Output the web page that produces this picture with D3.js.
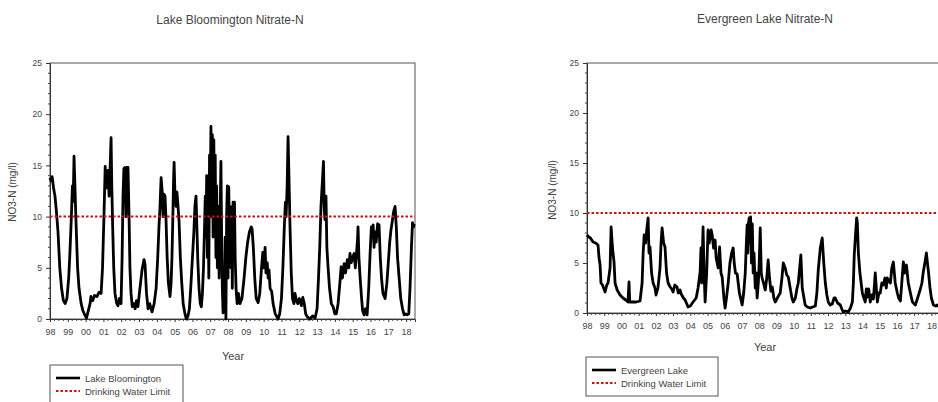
<!DOCTYPE html>
<html>
<head>
<meta charset="utf-8">
<script src="https://cdn.jsdelivr.net/npm/d3@7"></script>
<style>
  html, body { margin: 0; padding: 0; background: #fff; }
  svg { display: block; font-family: "Liberation Sans", Arial, sans-serif; }
</style>
</head>
<body>
<script>
// decimal year, NO3-N (mg/l)
const bloomington = [
  [1998.00,13.8],[1998.06,13.5],[1998.12,13.9],[1998.20,12.8],[1998.28,12.0],[1998.36,10.5],[1998.45,8.5],
  [1998.55,5.0],[1998.65,3.0],[1998.75,1.8],[1998.85,1.5],[1998.95,2.0],[1999.05,4.0],[1999.12,6.5],
  [1999.20,10.0],[1999.26,13.0],[1999.30,11.5],[1999.35,15.9],[1999.40,13.0],[1999.46,9.5],[1999.55,5.0],
  [1999.63,3.0],[1999.75,1.5],[1999.85,0.8],[1999.95,0.4],[2000.05,0.1],[2000.15,0.8],[2000.25,1.5],
  [2000.30,2.2],[2000.40,1.8],[2000.50,2.3],[2000.64,2.2],[2000.75,2.6],[2000.87,2.5],[2000.95,5.0],
  [2001.03,10.0],[2001.10,14.9],[2001.15,13.5],[2001.20,12.8],[2001.26,14.5],[2001.32,12.0],[2001.38,15.0],
  [2001.43,17.7],[2001.47,13.0],[2001.52,9.0],[2001.58,5.0],[2001.65,2.5],[2001.75,1.5],[2001.82,1.3],
  [2001.90,2.0],[2001.99,1.5],[2002.05,6.0],[2002.10,12.0],[2002.15,14.7],[2002.21,14.8],[2002.27,10.0],
  [2002.32,14.8],[2002.38,14.8],[2002.44,10.0],[2002.49,5.0],[2002.55,2.5],[2002.62,1.2],[2002.70,1.5],
  [2002.78,1.0],[2002.86,1.8],[2002.94,1.2],[2003.05,3.0],[2003.17,4.8],[2003.28,5.8],[2003.34,5.3],
  [2003.42,2.5],[2003.51,1.0],[2003.60,1.5],[2003.73,0.7],[2003.85,1.5],[2003.96,3.0],[2004.05,6.0],
  [2004.12,9.0],[2004.18,11.0],[2004.24,13.8],[2004.30,12.5],[2004.35,10.0],[2004.40,12.2],[2004.46,12.0],
  [2004.52,9.5],[2004.58,6.0],[2004.65,3.5],[2004.74,2.2],[2004.80,3.5],[2004.85,6.0],[2004.90,10.0],
  [2004.94,13.5],[2004.97,15.3],[2005.02,12.0],[2005.08,11.0],[2005.13,12.4],[2005.19,11.0],[2005.25,9.5],
  [2005.32,6.0],[2005.40,3.5],[2005.48,1.5],[2005.58,0.5],[2005.66,0.0],[2005.75,0.3],[2005.83,1.0],
  [2005.92,3.5],[2006.00,6.0],[2006.08,8.5],[2006.14,11.0],[2006.20,12.0],[2006.25,9.0],[2006.30,5.8],
  [2006.37,3.0],[2006.44,1.5],[2006.50,1.2],[2006.56,2.5],[2006.62,5.0],[2006.68,9.0],[2006.72,12.0],
  [2006.76,8.0],[2006.80,14.0],[2006.84,6.0],[2006.88,11.0],[2006.92,4.0],[2006.96,16.0],[2007.00,12.0],
  [2007.04,18.8],[2007.08,10.0],[2007.12,18.0],[2007.16,8.0],[2007.20,17.5],[2007.24,9.0],[2007.28,16.0],
  [2007.32,6.0],[2007.36,13.0],[2007.40,5.0],[2007.45,11.0],[2007.50,4.0],[2007.55,9.5],[2007.60,15.4],
  [2007.64,8.0],[2007.68,3.0],[2007.72,0.6],[2007.76,5.0],[2007.80,1.5],[2007.84,8.0],[2007.88,0.0],
  [2007.92,10.0],[2007.96,13.0],[2008.00,4.0],[2008.04,12.9],[2008.08,7.0],[2008.12,11.0],[2008.16,5.0],
  [2008.20,10.0],[2008.24,3.0],[2008.28,11.4],[2008.32,8.0],[2008.36,11.4],[2008.40,6.0],[2008.45,3.0],
  [2008.51,1.5],[2008.58,2.5],[2008.67,1.5],[2008.78,2.0],[2008.90,4.0],[2009.00,6.0],[2009.10,7.5],
  [2009.20,8.5],[2009.30,9.0],[2009.35,8.8],[2009.42,7.0],[2009.50,4.0],[2009.58,2.0],[2009.69,1.6],
  [2009.78,2.5],[2009.88,5.0],[2009.95,6.5],[2010.02,5.0],[2010.08,7.0],[2010.13,4.5],[2010.20,5.5],
  [2010.25,4.0],[2010.30,4.8],[2010.36,3.0],[2010.45,2.7],[2010.53,1.5],[2010.65,0.5],[2010.75,0.2],
  [2010.81,0.0],[2010.90,0.5],[2011.00,2.0],[2011.08,5.0],[2011.16,9.0],[2011.22,11.4],[2011.26,10.0],
  [2011.32,13.0],[2011.37,17.8],[2011.42,14.0],[2011.48,9.0],[2011.55,4.5],[2011.62,2.0],[2011.70,1.5],
  [2011.76,2.5],[2011.84,1.8],[2011.92,1.5],[2012.00,2.0],[2012.04,1.9],[2012.12,1.3],[2012.20,2.1],
  [2012.28,1.5],[2012.36,0.5],[2012.45,0.2],[2012.61,0.0],[2012.75,0.3],[2012.89,0.1],[2013.00,1.0],
  [2013.08,4.0],[2013.15,7.0],[2013.22,11.0],[2013.30,13.5],[2013.36,15.4],[2013.40,11.0],[2013.44,9.7],
  [2013.50,12.0],[2013.55,7.0],[2013.62,5.0],[2013.70,3.0],[2013.80,1.5],[2013.90,1.2],[2014.00,0.5],
  [2014.08,0.5],[2014.18,1.5],[2014.28,3.5],[2014.35,5.1],[2014.42,4.0],[2014.52,5.4],[2014.60,4.5],
  [2014.70,5.8],[2014.78,5.0],[2014.85,6.4],[2014.92,5.5],[2015.00,6.0],[2015.08,6.4],[2015.15,5.0],
  [2015.22,6.5],[2015.28,8.0],[2015.30,9.0],[2015.35,6.0],[2015.42,4.0],[2015.50,2.0],[2015.56,0.8],
  [2015.64,0.4],[2015.72,1.0],[2015.81,0.4],[2015.90,3.0],[2015.98,6.5],[2016.05,9.0],[2016.10,8.0],
  [2016.15,9.2],[2016.20,7.0],[2016.26,8.5],[2016.32,7.5],[2016.40,9.3],[2016.48,9.2],[2016.55,6.0],
  [2016.62,4.0],[2016.70,2.5],[2016.82,2.0],[2016.92,3.5],[2017.00,5.5],[2017.08,7.5],[2017.15,8.7],
  [2017.22,9.5],[2017.30,10.5],[2017.38,11.0],[2017.45,9.0],[2017.52,6.0],[2017.61,4.0],[2017.70,2.0],
  [2017.80,1.0],[2017.89,0.4],[2017.98,0.5],[2018.06,0.4],[2018.15,0.5],[2018.22,3.0],[2018.30,7.0],
  [2018.36,9.4],[2018.42,9.0],[2018.45,9.3]
];

const evergreen = [
  [1998.00,7.8],[1998.10,7.6],[1998.20,7.5],[1998.35,7.1],[1998.50,7.0],[1998.64,6.8],[1998.70,5.5],
  [1998.76,4.8],[1998.81,3.0],[1998.90,2.8],[1999.05,2.1],[1999.15,2.8],[1999.22,3.0],[1999.34,4.5],
  [1999.40,8.6],[1999.46,7.0],[1999.51,6.0],[1999.57,5.1],[1999.63,3.0],[1999.75,2.3],[1999.92,1.8],
  [2000.09,1.5],[2000.25,1.3],[2000.38,1.1],[2000.44,3.1],[2000.48,1.1],[2000.65,1.1],[2000.85,1.1],
  [2001.08,1.2],[2001.20,3.0],[2001.26,6.0],[2001.32,7.8],[2001.40,7.0],[2001.48,8.5],[2001.55,9.5],
  [2001.60,6.0],[2001.66,6.6],[2001.75,4.0],[2001.84,3.0],[2001.95,2.5],[2002.01,1.8],[2002.12,2.5],
  [2002.24,4.5],[2002.30,7.0],[2002.36,8.5],[2002.45,7.0],[2002.53,6.6],[2002.62,4.0],[2002.71,3.0],
  [2002.83,2.6],[2002.92,2.4],[2003.00,2.1],[2003.10,2.8],[2003.23,2.6],[2003.30,2.0],[2003.40,2.3],
  [2003.47,1.9],[2003.60,1.5],[2003.70,1.3],[2003.87,0.6],[2004.00,0.7],[2004.16,1.1],[2004.34,1.5],
  [2004.45,2.5],[2004.57,4.1],[2004.62,6.5],[2004.66,3.0],[2004.74,8.6],[2004.80,4.0],[2004.86,1.1],
  [2004.95,4.0],[2005.03,8.3],[2005.10,7.0],[2005.21,8.3],[2005.27,7.8],[2005.35,6.5],[2005.44,7.3],
  [2005.50,5.5],[2005.62,4.5],[2005.70,6.6],[2005.78,4.0],[2005.85,3.6],[2005.95,1.5],[2006.02,0.5],
  [2006.10,1.5],[2006.20,3.0],[2006.30,5.0],[2006.40,6.0],[2006.49,6.5],[2006.55,5.0],[2006.62,4.0],
  [2006.72,3.9],[2006.85,2.0],[2007.01,0.8],[2007.10,2.0],[2007.19,4.0],[2007.25,6.8],[2007.30,8.8],
  [2007.34,6.0],[2007.38,9.0],[2007.42,9.5],[2007.46,7.0],[2007.50,9.6],[2007.55,5.0],[2007.60,8.9],
  [2007.65,4.0],[2007.70,6.0],[2007.77,2.5],[2007.82,4.0],[2007.88,1.5],[2007.95,3.0],[2008.00,5.0],
  [2008.06,8.5],[2008.12,4.0],[2008.17,3.5],[2008.25,3.0],[2008.35,2.3],[2008.44,3.5],[2008.52,5.3],
  [2008.60,3.5],[2008.68,2.2],[2008.76,2.6],[2008.85,1.5],[2008.93,1.1],[2009.05,1.5],[2009.22,2.0],
  [2009.32,3.5],[2009.40,5.0],[2009.51,4.5],[2009.60,3.8],[2009.69,3.6],[2009.80,2.5],[2009.90,1.5],
  [2009.98,1.1],[2010.10,1.5],[2010.20,2.5],[2010.27,3.0],[2010.35,4.5],[2010.42,5.8],[2010.50,2.5],
  [2010.60,1.5],[2010.67,0.8],[2010.80,0.6],[2010.97,0.5],[2011.10,0.6],[2011.26,0.7],[2011.35,2.0],
  [2011.43,4.3],[2011.55,6.5],[2011.66,7.5],[2011.75,5.0],[2011.84,3.0],[2011.93,1.8],[2012.01,1.1],
  [2012.12,0.8],[2012.24,0.9],[2012.35,1.5],[2012.42,1.5],[2012.55,1.0],[2012.71,0.8],[2012.80,0.4],
  [2012.88,0.1],[2013.00,0.2],[2013.17,0.1],[2013.30,0.5],[2013.41,1.1],[2013.47,3.0],[2013.52,5.8],
  [2013.60,8.0],[2013.66,9.5],[2013.70,9.0],[2013.76,6.0],[2013.85,4.0],[2013.99,2.0],[2014.08,1.5],
  [2014.16,1.1],[2014.22,2.4],[2014.28,1.6],[2014.36,2.4],[2014.45,1.1],[2014.55,1.8],[2014.63,1.4],
  [2014.70,3.0],[2014.74,4.0],[2014.80,2.5],[2014.86,1.1],[2014.95,2.0],[2015.03,2.0],[2015.12,3.0],
  [2015.21,2.8],[2015.30,3.5],[2015.38,2.5],[2015.44,3.5],[2015.52,3.2],[2015.62,3.0],[2015.70,4.5],
  [2015.79,5.1],[2015.90,3.0],[2016.02,2.0],[2016.10,1.5],[2016.20,1.2],[2016.28,3.0],[2016.37,5.1],
  [2016.45,4.0],[2016.55,4.8],[2016.66,3.0],[2016.78,2.0],[2016.90,1.1],[2017.07,0.8],[2017.20,1.5],
  [2017.36,2.4],[2017.45,3.0],[2017.53,4.1],[2017.62,5.0],[2017.71,6.0],[2017.77,5.0],[2017.83,4.1],
  [2017.92,2.5],[2018.00,1.5],[2018.12,0.8],[2018.25,0.7],[2018.35,0.8],[2018.45,0.6]
];

const yearTicks = d3.range(1998, 2019);
const yMajor = [0, 5, 10, 15, 20, 25];
const drinkingLimit = 10;

const W = 938, H = 402;
const svg = d3.select("body").append("svg").attr("width", W).attr("height", H);

function drawPanel(cfg) {
    const x = d3.scaleLinear().domain([1998, 2018.5]).range([cfg.left, cfg.right]);
    const y = d3.scaleLinear().domain([0, 25]).range([cfg.bottom, cfg.top]);
    const g = svg.append("g");

    // title
    g.append("text").attr("x", cfg.titleX).attr("y", cfg.titleY)
        .attr("text-anchor", "middle").attr("font-size", 12).attr("fill", "#444")
        .text(cfg.title);

    // frame
    g.append("rect").attr("x", cfg.left).attr("y", cfg.top)
        .attr("width", cfg.right - cfg.left).attr("height", cfg.bottom - cfg.top)
        .attr("fill", "none").attr("stroke", "#555").attr("stroke-width", 1);

    // y axis (major + minor ticks)
    const yAxis = g.append("g").attr("transform", `translate(${cfg.left},0)`)
        .call(d3.axisLeft(y).tickValues(yMajor).tickSize(4).tickPadding(4).tickFormat(d3.format("d")));
    yAxis.select(".domain").attr("stroke", "#333");
    yAxis.selectAll(".tick line").attr("stroke", "#333");
    yAxis.selectAll("text").attr("font-size", 8.5).attr("fill", "#444").attr("font-family", "Liberation Sans, Arial, sans-serif");
    g.append("g").selectAll("line").data(d3.range(0, 26).filter(v => v % 5 !== 0)).join("line")
        .attr("x1", cfg.left - 2).attr("x2", cfg.left + 1)
        .attr("y1", d => y(d)).attr("y2", d => y(d)).attr("stroke", "#444");

    // x axis
    const xAxis = g.append("g").attr("transform", `translate(0,${cfg.bottom})`)
        .call(d3.axisBottom(x).tickValues(yearTicks).tickSize(3).tickPadding(7)
            .tickFormat(d => String(d % 100).padStart(2, "0")));
    xAxis.select(".domain").attr("stroke", "#333");
    xAxis.selectAll(".tick line").attr("stroke", "#333");
    xAxis.selectAll("text").attr("font-size", 9).attr("fill", "#444").attr("font-family", "Liberation Sans, Arial, sans-serif");
    g.append("g").selectAll("line").data(d3.range(1998.25, 2018.5, 0.25).filter(v => v % 1 !== 0)).join("line")
        .attr("x1", d => x(d)).attr("x2", d => x(d))
        .attr("y1", cfg.bottom).attr("y2", cfg.bottom + 2).attr("stroke", "#444");

    // axis titles
    g.append("text").attr("x", cfg.yearX).attr("y", cfg.yearY)
        .attr("text-anchor", "middle").attr("font-size", 11).attr("fill", "#444").text("Year");
    g.append("text").attr("transform", `translate(${cfg.ylabX},${cfg.ylabY}) rotate(-90)`)
        .attr("text-anchor", "middle").attr("font-size", 10).attr("fill", "#444").text("NO3-N (mg/l)");

    // series
    const line = d3.line().x(d => x(d[0])).y(d => y(d[1]));
    g.append("path").datum(cfg.data).attr("d", line)
        .attr("fill", "none").attr("stroke", "#000").attr("stroke-width", 2.8)
        .attr("stroke-linejoin", "round");

    // drinking water limit
    g.append("line").attr("x1", cfg.left).attr("x2", cfg.right)
        .attr("y1", y(drinkingLimit)).attr("y2", y(drinkingLimit))
        .attr("stroke", "#d01010").attr("stroke-width", 2).attr("stroke-dasharray", "2.5,2");

    // legend
    const L = cfg.legend;
    g.append("rect").attr("x", L.x).attr("y", L.y).attr("width", L.w).attr("height", L.h)
        .attr("fill", "#fff").attr("stroke", "#555");
    g.append("line").attr("x1", L.x + 6).attr("x2", L.x + 30)
        .attr("y1", L.y + 13).attr("y2", L.y + 13).attr("stroke", "#000").attr("stroke-width", 2.6);
    g.append("line").attr("x1", L.x + 6).attr("x2", L.x + 30)
        .attr("y1", L.y + 26).attr("y2", L.y + 26)
        .attr("stroke", "#d01010").attr("stroke-width", 2).attr("stroke-dasharray", "2.5,2");
    g.append("text").attr("x", L.x + 35).attr("y", L.y + 16.5)
        .attr("font-size", 9.5).attr("fill", "#444").text(cfg.seriesName);
    g.append("text").attr("x", L.x + 35).attr("y", L.y + 29.5)
        .attr("font-size", 9.5).attr("fill", "#444").text("Drinking Water Limit");
}

drawPanel({
    title: "Lake Bloomington Nitrate-N", seriesName: "Lake Bloomington", data: bloomington,
    left: 50, right: 415, top: 63, bottom: 319,
    titleX: 230, titleY: 24, yearX: 233, yearY: 360, ylabX: 16, ylabY: 192,
    legend: {x: 50, y: 365, w: 133, h: 39}
});

drawPanel({
    title: "Evergreen Lake Nitrate-N", seriesName: "Evergreen Lake", data: evergreen,
    left: 587, right: 940, top: 63, bottom: 313,
    titleX: 765, titleY: 23, yearX: 765, yearY: 351, ylabX: 556, ylabY: 190,
    legend: {x: 586, y: 357, w: 132, h: 39}
});
</script>
</body>
</html>
